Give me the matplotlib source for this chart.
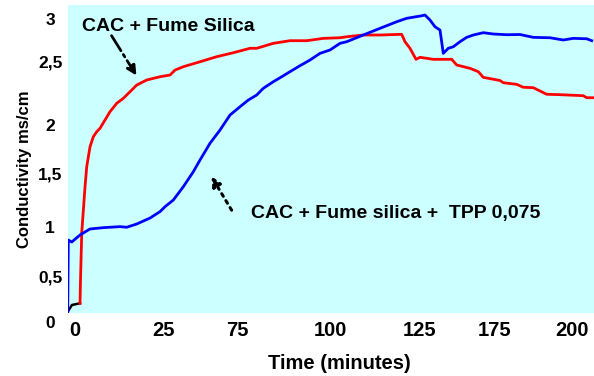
import matplotlib
matplotlib.use('Agg')
import matplotlib.pyplot as plt

plt.rcParams['font.family'] = ['Liberation Sans', 'DejaVu Sans']
plt.rcParams['font.weight'] = 'bold'

# CAC + Fume silica + TPP 0,075 (blue)
blue_t = [-2.94, -2.70, -1.33, 2.01, 6.04, 11.39, 18.11, 20.80, 24.83, 30.18,
          34.20, 36.22, 39.56, 43.58, 47.60, 50.30, 54.32, 58.35, 62.37, 66.40,
          69.74, 73.12, 75.77, 79.80, 83.18, 86.52, 90.54, 94.56, 98.59, 102.61,
          106.64, 109.33, 116.01, 122.73, 129.45, 133.48, 138.83, 140.84, 142.85,
          144.86, 146.88, 148.20, 150.22, 152.23, 154.92, 157.62, 160.28, 164.30,
          168.33, 173.72, 179.07, 184.42, 191.14, 196.49, 200.51, 205.91, 207.92]
blue_c = [0.121, 0.829, 0.809, 0.879, 0.938, 0.951, 0.961, 0.955, 0.987, 1.046,
          1.109, 1.158, 1.224, 1.355, 1.503, 1.619, 1.784, 1.915, 2.063, 2.145,
          2.211, 2.261, 2.327, 2.392, 2.441, 2.491, 2.550, 2.606, 2.672, 2.705,
          2.771, 2.787, 2.853, 2.919, 2.984, 3.018, 3.040, 3.050, 3.001,
          2.935, 2.902, 2.672, 2.722, 2.737, 2.787, 2.830, 2.853, 2.876,
          2.863, 2.856, 2.858, 2.830, 2.826, 2.804, 2.820, 2.816, 2.797]

# CAC + Fume Silica (red), with the short black start segment
start_t = [-2.94, -1.21, 2.01]
start_c = [0.121, 0.188, 0.204]
red_t = [2.01, 2.21, 2.70, 4.02, 4.71, 6.04, 7.36, 8.73, 10.06, 12.07,
         14.08, 16.78, 19.44, 22.13, 24.83, 28.85, 34.20, 38.23, 40.24, 43.58,
         50.30, 57.02, 63.70, 70.42, 73.12, 79.80, 86.52, 93.24, 99.92, 106.64,
         109.33, 116.01, 122.73, 131.46, 132.79, 134.80, 137.22, 138.83, 144.18,
         151.58, 153.60, 158.95, 162.29, 164.30, 171.02, 172.35, 177.74, 180.40,
         184.42, 189.81, 195.16, 204.54, 205.91, 208.85]
red_c = [0.204, 0.434, 0.898, 1.352, 1.553, 1.750, 1.849, 1.898, 1.932, 2.014,
         2.096, 2.179, 2.228, 2.293, 2.359, 2.409, 2.441, 2.458, 2.507, 2.540,
         2.589, 2.639, 2.678, 2.722, 2.722, 2.771, 2.797, 2.797, 2.820, 2.826,
         2.836, 2.853, 2.853, 2.860, 2.787, 2.722, 2.613, 2.633, 2.613,
         2.613, 2.557, 2.524, 2.491, 2.435, 2.404, 2.382, 2.366, 2.337,
         2.333, 2.268, 2.264, 2.254, 2.234, 2.234]

# tick labels as printed on the original (irregular spacing)
xtick_labels = ['0', '25', '75', '100', '125', '175', '200']
xtick_pos = [0, 35.8, 65.2, 102.6, 138.8, 168.9, 200]
ytick_labels = ['0', '0,5', '1', '1,5', '2', '2,5', '3']
ytick_pos = [0, 0.454, 0.938, 1.471, 1.945, 2.577, 3.001]

fig = plt.figure(figsize=(5.94, 3.76), dpi=100)
ax = fig.add_axes([0.1145, 0.1676, 0.8855, 0.819])
ax.set_facecolor('#CCFFFF')
for s in ax.spines.values():
    s.set_visible(False)

ax.plot(start_t, start_c, color='black', lw=1.8)
ax.plot(red_t, red_c, color='#FF0000', lw=2.0)
ax.plot(blue_t, blue_c, color='#0000FF', lw=2.0)

ax.set_xlim(-2.82, 208.85)
ax.set_ylim(0.1086, 3.149)

ax.set_xticks(xtick_pos, xtick_labels)
ax.tick_params(axis='x', length=0, pad=6, labelsize=14.5)
ax.set_yticks([])
for lab, p in zip(ytick_labels, ytick_pos):
    ax.text(-0.034, p, lab, transform=ax.get_yaxis_transform(), ha='center',
            va='center', fontsize=12.5, fontweight='bold', clip_on=False)

fig.text(0.042, 0.55, 'Conductivity ms/cm', rotation=90, ha='center',
         va='center', fontsize=12, fontweight='bold')
fig.text(0.571, 0.032, 'Time (minutes)', ha='center', va='center',
         fontsize=14.5, fontweight='bold')

ax.text(3.0, 2.94, 'CAC + Fume Silica', fontsize=14, fontweight='bold',
        va='center', ha='left')
ax.text(71.0, 1.09, 'CAC + Fume silica +  TPP 0,075', fontsize=14,
        fontweight='bold', va='center', ha='left')

ax.annotate('', xy=(25.3, 2.43), xytext=(14.1, 2.87),
            arrowprops=dict(arrowstyle='-|>', linestyle='-.', lw=2.0,
                            color='black', mutation_scale=14))
ax.annotate('', xy=(54.3, 1.48), xytext=(63.6, 1.10),
            arrowprops=dict(arrowstyle='-|>', linestyle=':', lw=2.2,
                            color='black', mutation_scale=14))

fig.savefig('out.png', dpi=100)
